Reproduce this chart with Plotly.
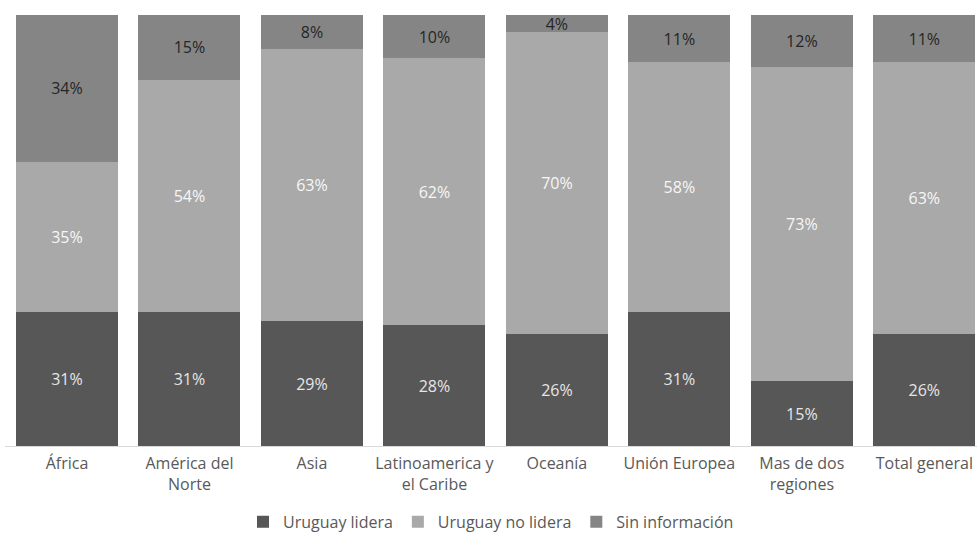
import plotly.graph_objects as go

# Regions (x axis categories)
regiones = [
    "África",
    "América del<br>Norte",
    "Asia",
    "Latinoamerica y<br>el Caribe",
    "Oceanía",
    "Unión Europea",
    "Mas de dos<br>regiones",
    "Total general",
]

# Share of projects (%) by leadership status
uruguay_lidera = [31, 31, 29, 28, 26, 31, 15, 26]
uruguay_no_lidera = [35, 54, 63, 62, 70, 58, 73, 63]
sin_informacion = [34, 15, 8, 10, 4, 11, 12, 11]

series = [
    ("Uruguay lidera", uruguay_lidera, "#575757", "#e6e6e6"),
    ("Uruguay no lidera", uruguay_no_lidera, "#a9a9a9", "#f7f7f7"),
    ("Sin información", sin_informacion, "#858585", "#262626"),
]

font_family = "'Open Sans', sans-serif"
font_size = 16

fig = go.Figure()
for name, values, color, txt_color in series:
    fig.add_trace(go.Bar(
        name=name,
        x=regiones,
        y=values,
        marker=dict(color=color, line=dict(width=0)),
        text=[f"{v}%" for v in values],
        textposition="inside",
        insidetextanchor="middle",
        textfont=dict(color=txt_color, size=font_size, family=font_family),
        hoverinfo="skip",
    ))

fig.update_layout(
    barmode="stack",
    bargap=0.167,
    width=977,
    height=537,
    margin=dict(l=5, r=0, t=15, b=91, autoexpand=False),
    paper_bgcolor="white",
    plot_bgcolor="white",
    font=dict(family=font_family, size=font_size, color="#595959"),
    uniformtext=dict(minsize=font_size, mode="show"),
    showlegend=True,
    legend=dict(
        orientation="h",
        x=0.5,
        xanchor="center",
        y=-0.176,
        yanchor="middle",
        font=dict(size=font_size, color="#595959"),
        itemwidth=30,
        traceorder="normal",
    ),
    xaxis=dict(
        range=[-0.506, 7.43],
        showline=True,
        linecolor="#d9d9d9",
        linewidth=1,
        ticks="",
        ticklabelstandoff=3,
        showgrid=False,
        automargin=False,
        tickfont=dict(size=font_size, color="#595959"),
    ),
    yaxis=dict(
        range=[0, 100],
        visible=False,
        showgrid=False,
    ),
)

fig.write_html("out.html")
